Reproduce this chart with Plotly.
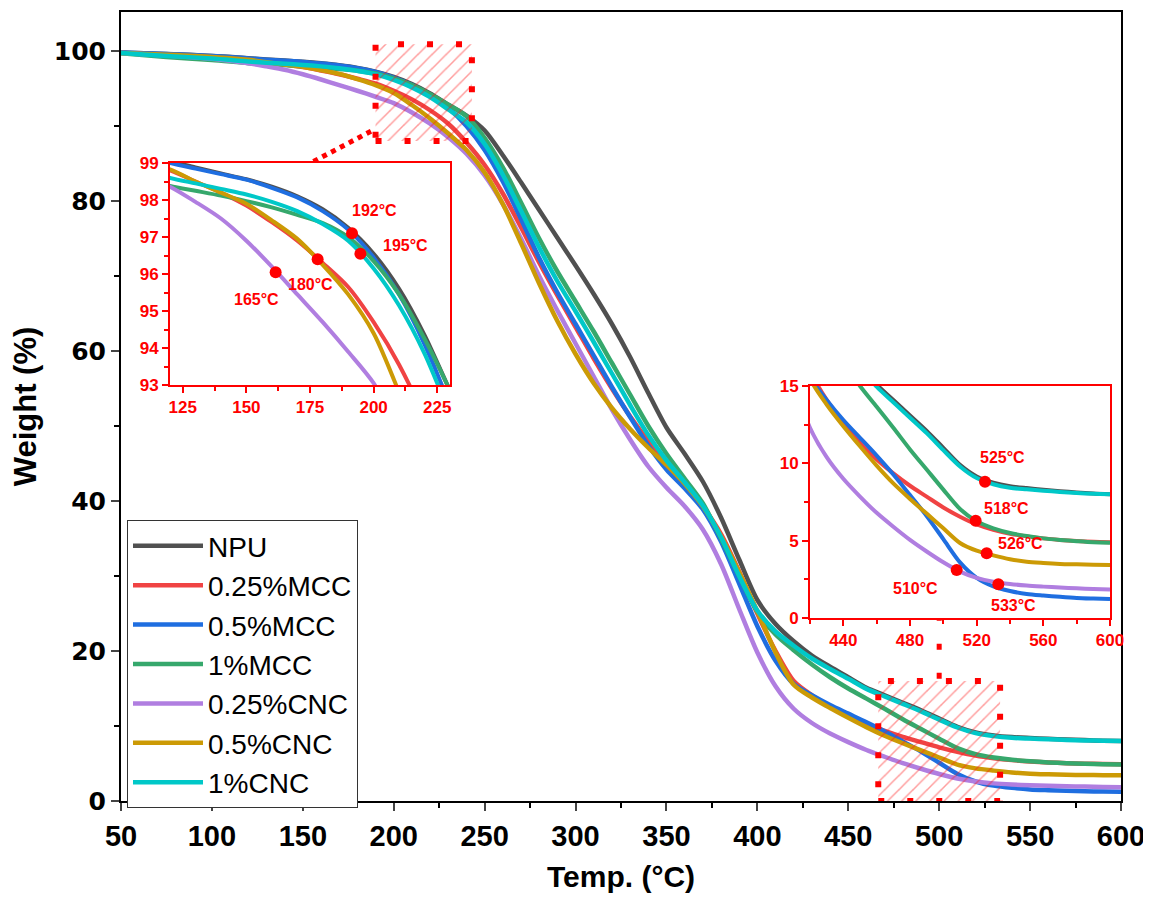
import plotly.graph_objects as go

# ---------------- data ----------------
temps = [50, 75, 100, 120, 130, 140, 150, 160, 170, 180, 190, 200, 210, 220, 230,
         240, 250, 260, 270, 280, 290, 300, 310, 320, 330, 340, 350, 360, 370, 380,
         390, 400, 410, 420, 430, 440, 450, 460, 470, 480, 490, 500, 510, 520, 530,
         540, 550, 560, 570, 580, 590, 600]

npu = [99.8, 99.6, 99.35, 99.05, 98.88, 98.72, 98.56, 98.36, 98.1, 97.75, 97.25, 96.55,
       95.6, 94.35, 92.85,
       91.4, 89.4, 86.1, 82.5, 78.8, 75.1, 71.4, 67.6, 63.6, 59.2,
       54.4, 49.8, 46.3, 42.6, 37.8, 32.2, 26.8, 23.6, 21.3, 19.4,
       17.9, 16.5, 15.1, 14.1, 13.1, 12.1, 11.0, 9.9, 9.15, 8.75,
       8.52, 8.4, 8.3, 8.2, 8.12, 8.05, 8.0]

mcc_025 = [99.75, 99.5, 99.2, 98.8, 98.5, 98.2, 97.85, 97.4, 96.9, 96.3, 95.65, 94.7,
           93.55, 92.1,
           90.3, 87.8, 84.8, 81.0, 76.5, 71.8, 67.4, 63.2, 59.0, 55.0,
           51.3, 48.0, 45.1, 42.4, 39.3, 35.6, 30.6, 25.0, 20.0, 16.0,
           14.1, 12.6, 11.3, 10.25, 9.35, 8.55, 7.85, 7.15, 6.55, 6.05,
           5.7, 5.45, 5.28, 5.15, 5.05, 4.98, 4.93, 4.9]

mcc_05 = [99.8, 99.6, 99.35, 99.0, 98.85, 98.7, 98.55, 98.33, 98.07, 97.7, 97.2, 96.45,
          95.45, 94.1,
          92.4, 90.0, 86.8, 82.6, 77.6, 72.4, 67.8, 63.6, 59.4, 55.2,
          51.2, 47.4, 44.2, 41.7, 38.9, 34.6, 29.0, 23.3, 18.7, 15.6,
          14.1, 12.8, 11.65, 10.5, 9.28, 7.95, 6.6, 5.1, 3.6, 2.6,
          2.05, 1.75, 1.55, 1.45, 1.37, 1.3, 1.26, 1.23]

mcc_1 = [99.7, 99.2, 98.8, 98.38, 98.25, 98.12, 97.97, 97.8, 97.6, 97.38, 97.0, 96.35,
         95.45, 94.25,
         92.85, 91.3, 88.4, 84.5, 79.8, 75.0, 70.6, 66.6, 62.6, 58.4,
         54.2, 50.0, 46.3, 43.0, 39.7, 35.0, 30.0, 25.2, 22.2, 20.1,
         18.2, 16.5, 15.0, 13.65, 12.3, 10.9, 9.6, 8.3, 7.05, 6.25,
         5.8, 5.5, 5.3, 5.15, 5.05, 4.97, 4.9, 4.87]

cnc_025 = [99.75, 99.4, 98.95, 98.36, 97.95, 97.5, 96.9, 96.2, 95.45, 94.7, 93.9, 93.05,
           91.8, 90.3, 88.5, 86.3, 83.4, 79.6, 75.0, 70.0, 65.4, 61.0,
           56.6, 52.2, 48.2, 44.6, 41.8, 39.3, 36.2, 31.6, 25.6, 19.8,
           15.3, 12.3, 10.4, 9.0, 7.85, 6.8, 5.9, 5.05, 4.3, 3.6,
           3.0, 2.6, 2.35, 2.2, 2.1, 2.03, 1.97, 1.92, 1.88, 1.85]

cnc_05 = [99.75, 99.5, 99.2, 98.83, 98.5, 98.2, 97.9, 97.45, 96.95, 96.25, 95.45, 94.4,
          92.8, 91.0, 89.0, 86.8, 83.8, 79.6, 74.4, 69.0, 64.0, 59.6,
          55.7, 52.4, 49.6, 47.1, 44.8, 42.3, 39.3, 35.3, 30.5, 25.3,
          19.8, 15.5, 13.8, 12.4, 11.1, 9.85, 8.7, 7.7, 6.75, 5.8,
          4.85, 4.35, 4.05, 3.8, 3.64, 3.56, 3.5, 3.47, 3.44, 3.43]

cnc_1 = [99.75, 99.35, 99.0, 98.6, 98.45, 98.3, 98.15, 97.95, 97.7, 97.35, 96.9, 96.15,
         95.15, 93.85,
         92.2, 90.5, 87.6, 83.5, 78.7, 73.8, 69.3, 65.3, 61.2, 57.0,
         52.8, 48.8, 45.4, 42.5, 39.4, 35.2, 30.0, 25.4, 22.6, 20.7,
         19.0, 17.6, 16.3, 14.95, 13.95, 12.95, 11.95, 10.85, 9.8, 9.05,
         8.65, 8.42, 8.32, 8.23, 8.15, 8.08, 8.03, 8.0]

series_names = ["NPU", "0.25%MCC", "0.5%MCC", "1%MCC", "0.25%CNC", "0.5%CNC", "1%CNC"]
series_values = [npu, mcc_025, mcc_05, mcc_1, cnc_025, cnc_05, cnc_1]
series_colors = ["#505050", "#f04343", "#1f6ee0", "#36a86c", "#b07ee0", "#cc9a05", "#00c8c8"]

# onset markers / labels (inset 1: initial degradation)
inset1_pt_x = [191.5, 194.8, 178.0, 161.5]
inset1_pt_y = [97.1, 96.55, 96.4, 96.05]
inset1_lbl_x = [200.5, 212.5, 175.0, 153.8]
inset1_lbl_y = [97.73, 96.78, 95.73, 95.3]
inset1_lbl = ["192°C", "195°C", "180°C", "165°C"]

# end-of-degradation markers / labels (inset 2)
inset2_pt_x = [525, 519.4, 526, 508, 533]
inset2_pt_y = [8.81, 6.29, 4.18, 3.1, 2.18]
inset2_lbl_x = [535.4, 538, 546.4, 483, 542]
inset2_lbl_y = [10.4, 7.09, 4.83, 1.92, 0.84]
inset2_lbl = ["525°C", "518°C", "526°C", "510°C", "533°C"]

# zoom windows drawn on the main plot
zoom1_x = [190, 243]
zoom1_y = [88, 100.9]
zoom2_x = [466.5, 533.5]
zoom2_y = [0, 16]

RED = "#ff0000"
SANS = "Liberation Sans, Arial, sans-serif"

fig = go.Figure()

# main curves
for n, v, c in zip(series_names, series_values, series_colors):
    fig.add_trace(go.Scatter(x=temps, y=v, name=n, mode="lines",
                             line=dict(color=c, width=4.5, shape="spline", smoothing=0.8),
                             xaxis="x", yaxis="y"))

# hatched zoom rectangles
for zx, zy in [(zoom1_x, zoom1_y), (zoom2_x, zoom2_y)]:
    fig.add_trace(go.Scatter(
        x=[zx[0], zx[1], zx[1], zx[0], zx[0]],
        y=[zy[0], zy[0], zy[1], zy[1], zy[0]],
        mode="lines", fill="toself", fillcolor="rgba(0,0,0,0)",
        fillpattern=dict(shape="/", fgcolor="rgba(255,20,20,0.85)", bgcolor="rgba(0,0,0,0)",
                         size=10, solidity=0.15),
        line=dict(color=RED, width=6, dash="6px,23px"),
        showlegend=False, hoverinfo="skip", xaxis="x", yaxis="y"))

# connectors
fig.add_trace(go.Scatter(x=[187.5, 154.5], y=[89.3, 85.1], mode="lines",
                         line=dict(color=RED, width=5, dash="5px,5px"),
                         showlegend=False, hoverinfo="skip", xaxis="x", yaxis="y"))
fig.add_trace(go.Scatter(x=[500, 500], y=[16.3, 24.4], mode="lines",
                         line=dict(color=RED, width=5, dash="6px,23px"),
                         showlegend=False, hoverinfo="skip", xaxis="x", yaxis="y"))

# insets
for ax, ay in [("x2", "y2"), ("x3", "y3")]:
    for n, v, c in zip(series_names, series_values, series_colors):
        fig.add_trace(go.Scatter(x=temps, y=v, name=n, mode="lines",
                                 line=dict(color=c, width=4, shape="spline", smoothing=0.8),
                                 showlegend=False, xaxis=ax, yaxis=ay))

fig.add_trace(go.Scatter(x=inset1_pt_x, y=inset1_pt_y, mode="markers",
                         marker=dict(color=RED, size=12), showlegend=False,
                         xaxis="x2", yaxis="y2"))
fig.add_trace(go.Scatter(x=inset2_pt_x, y=inset2_pt_y, mode="markers",
                         marker=dict(color=RED, size=12), showlegend=False,
                         xaxis="x3", yaxis="y3"))

annotations = []
for x, y, t in zip(inset1_lbl_x, inset1_lbl_y, inset1_lbl):
    annotations.append(dict(x=x, y=y, xref="x2", yref="y2", text=t, showarrow=False,
                            font=dict(family=SANS, size=16, color=RED, weight="bold")))
for x, y, t in zip(inset2_lbl_x, inset2_lbl_y, inset2_lbl):
    annotations.append(dict(x=x, y=y, xref="x3", yref="y3", text=t, showarrow=False,
                            font=dict(family=SANS, size=16, color=RED, weight="bold")))

inset_axis = dict(showline=True, linecolor=RED, linewidth=2, mirror=True, showgrid=False,
                  zeroline=False, ticks="outside", ticklen=6, tickwidth=2, tickcolor=RED,
                  automargin=False,
                  tickfont=dict(family=SANS, size=17, color=RED, weight="bold"))

# the page adds an 8px body margin, so the figure is offset by 8px
fig.update_layout(
    width=1143, height=896,
    margin=dict(l=113, r=30, t=4, b=103, autoexpand=False),
    paper_bgcolor="white", plot_bgcolor="white",
    showlegend=True,
    legend=dict(x=0.006, y=0.356, xanchor="left", yanchor="top",
                bgcolor="white", bordercolor="#333333", borderwidth=1,
                font=dict(family=SANS, size=28, color="black"),
                itemwidth=70, tracegroupgap=0),
    xaxis=dict(range=[50, 600], tick0=50, dtick=50, ticks="outside", ticklen=8, tickwidth=2,
               showline=True, linecolor="black", linewidth=2, mirror=True,
               showgrid=False, zeroline=False, automargin=False,
               minor=dict(ticks="outside", ticklen=5, tickwidth=1.5, dtick=25, tick0=50,
                          tickcolor="black"),
               tickfont=dict(family="Liberation Sans Narrow, Arial Narrow, Liberation Sans",
                             size=29, color="black", weight="bold"),
               title=dict(text="Temp. (°C)", standoff=15,
                          font=dict(family=SANS, size=30, color="black", weight="bold"))),
    yaxis=dict(range=[0, 105.2], tick0=0, dtick=20, ticks="outside", ticklen=8, tickwidth=2,
               showline=True, linecolor="black", linewidth=2, mirror=True,
               showgrid=False, zeroline=False, automargin=False,
               minor=dict(ticks="outside", ticklen=5, tickwidth=1.5, dtick=10, tick0=0,
                          tickcolor="black"),
               tickfont=dict(family="DejaVu Sans", size=25, color="black", weight="bold"),
               title=dict(text="Weight (%)", standoff=10,
                          font=dict(family=SANS, size=31, color="black", weight="bold"))),
    xaxis2=dict(inset_axis, domain=[0.049, 0.329], anchor="y2", range=[120, 230],
                tick0=125, dtick=25,
                minor=dict(ticks="outside", ticklen=4, tickcolor=RED, dtick=12.5, tick0=125)),
    yaxis2=dict(inset_axis, domain=[0.5272, 0.8086], anchor="x2", range=[93, 99],
                tick0=93, dtick=1,
                minor=dict(ticks="outside", ticklen=4, tickcolor=RED, dtick=0.5, tick0=93)),
    xaxis3=dict(inset_axis, domain=[0.689, 0.989], anchor="y3", range=[420, 600],
                tick0=440, dtick=40,
                minor=dict(ticks="outside", ticklen=4, tickcolor=RED, dtick=20, tick0=420)),
    yaxis3=dict(inset_axis, domain=[0.2319, 0.526], anchor="x3", range=[0, 15],
                tick0=0, dtick=5,
                minor=dict(ticks="outside", ticklen=4, tickcolor=RED, dtick=2.5, tick0=0)),
    annotations=annotations,
)

fig.write_html("out.html")
